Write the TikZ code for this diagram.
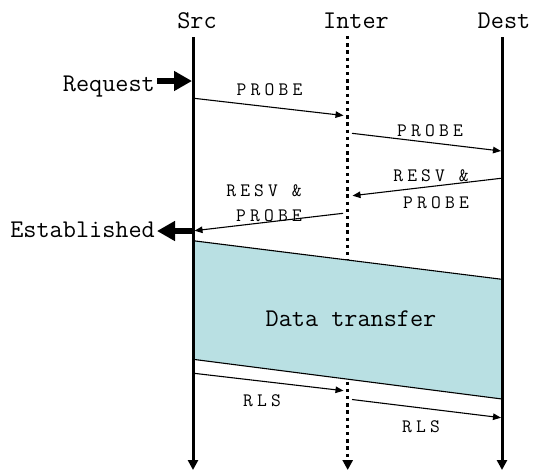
\documentclass[tikz,border=0pt]{standalone}
\usepackage{fontspec}
\setmainfont{Latin Modern Mono}
\newfontfamily\spacedfont{Latin Modern Mono}[LetterSpace=22]
\usetikzlibrary{arrows.meta}
\definecolor{dtfill}{RGB}{185,224,227}
\begin{document}
\begin{tikzpicture}[x=1pt,y=-1pt,
  big/.style={font=\fontsize{25.5}{27}\selectfont, inner sep=0pt},
  smalllbl/.style={font=\spacedfont\fontsize{19}{21}\selectfont, inner sep=0pt, anchor=base},
  life/.style={line width=3pt, -{Triangle[length=10pt,width=10pt]}},
  dotlife/.style={line width=3pt, dash pattern=on 3.3pt off 3.9pt, -{Triangle[length=10pt,width=10pt]}},
  msg/.style={line width=1.1pt, -{Triangle[length=8pt,width=6.5pt]}},
  fat/.style={line width=6pt, -{Triangle[length=18pt,width=19pt]}}]
\useasboundingbox (0,0) rectangle (545,474);

% lifeline ends
\coordinate (srcT) at (193,37);
\coordinate (srcB) at (193,470);
\coordinate (intT) at (347.7,36);
\coordinate (intB) at (347.7,470);
\coordinate (dstT) at (502,37);
\coordinate (dstB) at (502,470);

% headers
\node[big, anchor=base] (src) at (197,28) {Src};
\node[big, anchor=base] (inter) at (356,28) {Inter};
\node[big, anchor=base] (dest) at (504,28) {Dest};

% intermediate dotted lifeline
\draw[dotlife] (intT) -- (intB);

% data transfer region
\coordinate (dtA) at (193,240.7);
\coordinate (dtB) at (502,279.3);
\coordinate (dtC) at (502,399);
\coordinate (dtD) at (193,359.3);
\fill[dtfill] (dtA) -- (dtB) -- (dtC) -- (dtD) -- cycle;
\draw[line width=1.1pt] (dtA) -- (dtB) (dtD) -- (dtC);
\node[big, anchor=base] (dt) at (351,326) {Data transfer};

% solid lifelines
\draw[life] (srcT) -- (srcB);
\draw[life] (dstT) -- (dstB);

% Request / Established
\node[big, anchor=base east] (req) at (155,91.5) {Request};
\node[big, anchor=base east] (est) at (155,237) {Established};
\coordinate (reqS) at (157,81);
\coordinate (reqE) at (192,81);
\coordinate (estS) at (192,231);
\coordinate (estE) at (157,231);
\draw[fat] (reqS) -- (reqE);
\draw[fat] (estS) -- (estE);

% messages
\coordinate (p1s) at (194,98.3);
\coordinate (p1e) at (343.5,115.5);
\coordinate (p2s) at (352,133.3);
\coordinate (p2e) at (501,151);
\coordinate (r1s) at (501,178.3);
\coordinate (r1e) at (352.5,195.7);
\coordinate (r2s) at (343,213.3);
\coordinate (r2e) at (194.5,230.7);
\coordinate (l1s) at (194,373.3);
\coordinate (l1e) at (343.5,390.7);
\coordinate (l2s) at (352,399.5);
\coordinate (l2e) at (501,417.7);
\draw[msg] (p1s) -- (p1e);
\draw[msg] (p2s) -- (p2e);
\draw[msg] (r1s) -- (r1e);
\draw[msg] (r2s) -- (r2e);
\draw[msg] (l1s) -- (l1e);
\draw[msg] (l2s) -- (l2e);

% message labels
\node[smalllbl] (p1l) at (269.5,95) {PROBE};
\node[smalllbl] (p2l) at (430,136.5) {PROBE};
\node[smalllbl] (r1l) at (431,181.5) {RESV \&};
\node[smalllbl] (r1m) at (436,208) {PROBE};
\node[smalllbl] (r2l) at (264,196.5) {RESV \&};
\node[smalllbl] (r2m) at (269,221.5) {PROBE};
\node[smalllbl] (l1l) at (262,406) {RLS};
\node[smalllbl] (l2l) at (421,432.5) {RLS};
\end{tikzpicture}
\end{document}
